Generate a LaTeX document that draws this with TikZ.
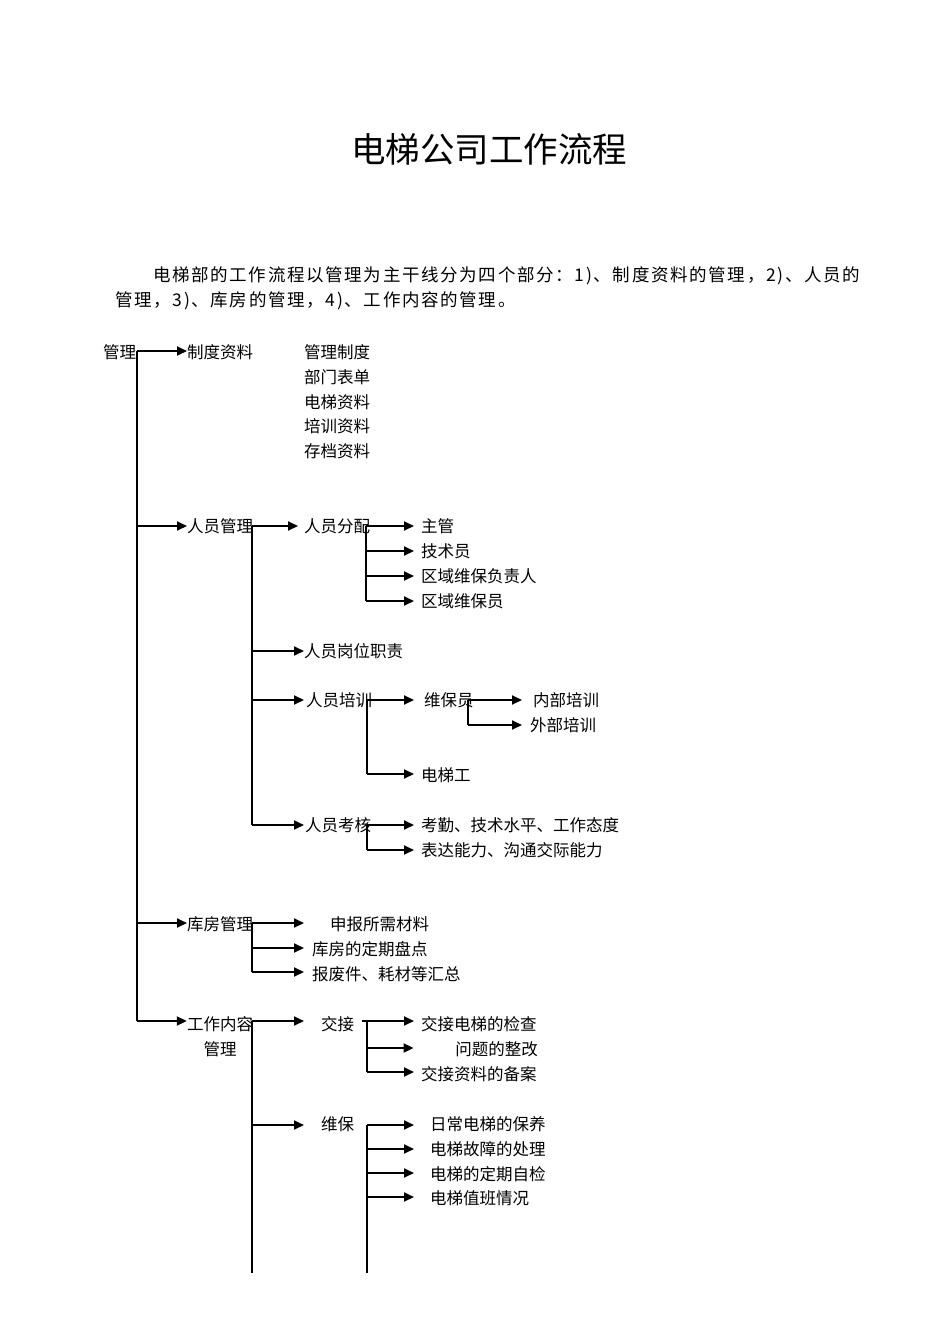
\documentclass[tikz,border=0pt]{standalone}
\usepackage{fontspec}
\newfontfamily\cjk{Noto Sans CJK SC}
\newfontfamily\cjkp[LetterSpace=9.5]{Noto Sans CJK SC}
\usetikzlibrary{arrows.meta}
\begin{document}
\begin{tikzpicture}[x=1pt,y=-1pt,
  lbl/.style={anchor=west, inner sep=0pt, font=\cjk\fontsize{16.5}{25}\selectfont, text height=14.5pt, text depth=2pt},
  titlestyle/.style={inner sep=0pt, font=\cjk\fontsize{34.5}{40}\selectfont},
  parastyle/.style={anchor=west, inner sep=0pt, font=\cjkp\fontsize{17.5}{20}\selectfont, text height=15.4pt, text depth=2.1pt},
  ln/.style={line width=1.8pt},
  arr/.style={ln, -{Triangle[length=10pt,width=9pt]}}]
\useasboundingbox[fill=white] (0,0) rectangle (950,1344);
% title and paragraph
\node[titlestyle] (title) at (489,149) {电梯公司工作流程};
\node[parastyle] (p1) at (153,275) {电梯部的工作流程以管理为主干线分为四个部分：1)、制度资料的管理，2)、人员的};
\node[parastyle] (p2) at (115,300) {管理，3)、库房的管理，4)、工作内容的管理。};
% labels
\node[lbl] (root) at (103,352) {管理};
\node[lbl] (zd) at (187,352) {制度资料};
\node[lbl] (zd1) at (304,352) {管理制度};
\node[lbl] (zd2) at (304,377) {部门表单};
\node[lbl] (zd3) at (304,402) {电梯资料};
\node[lbl] (zd4) at (304,426) {培训资料};
\node[lbl] (zd5) at (304,451) {存档资料};
\node[lbl] (ry) at (187,526) {人员管理};
\node[lbl] (fp) at (304,526) {人员分配};
\node[lbl] (fp1) at (421,526) {主管};
\node[lbl] (fp2) at (421,551) {技术员};
\node[lbl] (fp3) at (421,576) {区域维保负责人};
\node[lbl] (fp4) at (421,601) {区域维保员};
\node[lbl] (gw) at (304,651) {人员岗位职责};
\node[lbl] (px) at (306,700) {人员培训};
\node[lbl] (wby) at (424,700) {维保员};
\node[lbl] (dtg) at (421,775) {电梯工};
\node[lbl] (nb) at (533,700) {内部培训};
\node[lbl] (wbp) at (530,725) {外部培训};
\node[lbl] (kh) at (305,825) {人员考核};
\node[lbl] (kh1) at (421,825) {考勤、技术水平、工作态度};
\node[lbl] (kh2) at (421,850) {表达能力、沟通交际能力};
\node[lbl] (kf) at (187,924) {库房管理};
\node[lbl] (kf1) at (330,924) {申报所需材料};
\node[lbl] (kf2) at (312,949) {库房的定期盘点};
\node[lbl] (kf3) at (312,974) {报废件、耗材等汇总};
\node[lbl, anchor=center, align=center, text height=, text depth=] (gz) at (220,1036.5) {工作内容\\管理};
\node[lbl] (jj) at (321,1024) {交接};
\node[lbl] (jj1) at (421,1024) {交接电梯的检查};
\node[lbl, anchor=east] (jj2) at (538,1049) {问题的整改};
\node[lbl] (jj3) at (421,1074) {交接资料的备案};
\node[lbl] (wbx) at (321,1124) {维保};
\node[lbl] (wb1) at (430,1124) {日常电梯的保养};
\node[lbl] (wb2) at (430,1149) {电梯故障的处理};
\node[lbl] (wb3) at (430,1174) {电梯的定期自检};
\node[lbl] (wb4) at (430,1198) {电梯值班情况};
% bus coordinates
\coordinate (t0) at (137,351);
\coordinate (t1) at (137,526);
\coordinate (t2) at (137,923);
\coordinate (t3) at (137,1021);
\coordinate (r0) at (252,526);
\coordinate (r1) at (252,651);
\coordinate (r2) at (252,700);
\coordinate (r3) at (252,825);
\coordinate (f0) at (366,526);
\coordinate (f1) at (366,551);
\coordinate (f2) at (366,576);
\coordinate (f3) at (366,601);
\coordinate (p0) at (367,700);
\coordinate (p1b) at (367,774);
\coordinate (w0) at (468,700);
\coordinate (w1) at (468,725);
\coordinate (k0) at (367,825);
\coordinate (k1) at (367,850);
\coordinate (s0) at (252,923);
\coordinate (s1) at (252,948);
\coordinate (s2) at (252,972);
\coordinate (g0) at (252,1021);
\coordinate (g1) at (252,1125);
\coordinate (gEnd) at (252,1273);
\coordinate (jtick) at (362,1021);
\coordinate (j0) at (367,1021);
\coordinate (j1) at (367,1048);
\coordinate (j2) at (367,1072);
\coordinate (m0) at (367,1125);
\coordinate (m1) at (367,1149);
\coordinate (m2) at (367,1173);
\coordinate (m3) at (367,1197);
\coordinate (mEnd) at (367,1273);
% bus lines
\draw[ln] (t0) -- (t3);
\draw[ln] (r0) -- (r3);
\draw[ln] (f0) -- (f3);
\draw[ln] (p0) -- (p1b);
\draw[ln] (w0) -- (w1);
\draw[ln] (k0) -- (k1);
\draw[ln] (s0) -- (s2);
\draw[ln] (g0) -- (gEnd);
\draw[ln] (jtick) -- (j0) -- (j2);
\draw[ln] (m0) -- (mEnd);
% arrows
\draw[arr] (t0) -- (t0 -| zd.west);
\draw[arr] (t1) -- (t1 -| ry.west);
\draw[arr] (t2) -- (t2 -| kf.west);
\draw[arr] (t3) -- (t3 -| gz.west);
\draw[arr, shorten >=6pt] (r0) -- (r0 -| fp.west);
\draw[arr] (r1) -- (r1 -| gw.west);
\draw[arr, shorten >=2pt] (r2) -- (r2 -| px.west);
\draw[arr, shorten >=1pt] (r3) -- (r3 -| kh.west);
\draw[arr, shorten >=7pt] (f0) -- (f0 -| fp1.west);
\draw[arr, shorten >=7pt] (f1) -- (f1 -| fp2.west);
\draw[arr, shorten >=7pt] (f2) -- (f2 -| fp3.west);
\draw[arr, shorten >=7pt] (f3) -- (f3 -| fp4.west);
\draw[arr, shorten >=10pt] (p0) -- (p0 -| wby.west);
\draw[arr, shorten >=7pt] (p1b) -- (p1b -| dtg.west);
\draw[arr, shorten >=11pt] (w0) -- (w0 -| nb.west);
\draw[arr, shorten >=8pt] (w1) -- (w1 -| wbp.west);
\draw[arr, shorten >=7pt] (k0) -- (k0 -| kh1.west);
\draw[arr, shorten >=7pt] (k1) -- (k1 -| kh2.west);
\draw[arr, shorten >=26pt] (s0) -- (s0 -| kf1.west);
\draw[arr, shorten >=8pt] (s1) -- (s1 -| kf2.west);
\draw[arr, shorten >=8pt] (s2) -- (s2 -| kf3.west);
\draw[arr, shorten >=17pt] (g0) -- (g0 -| jj.west);
\draw[arr, shorten >=17pt] (g1) -- (g1 -| wbx.west);
\draw[arr, shorten >=7pt] (j0) -- (j0 -| jj1.west);
\draw[arr, shorten >=41.5pt] (j1) -- (j1 -| jj2.west);
\draw[arr, shorten >=7pt] (j2) -- (j2 -| jj3.west);
\draw[arr, shorten >=16pt] (m0) -- (m0 -| wb1.west);
\draw[arr, shorten >=16pt] (m1) -- (m1 -| wb2.west);
\draw[arr, shorten >=16pt] (m2) -- (m2 -| wb3.west);
\draw[arr, shorten >=16pt] (m3) -- (m3 -| wb4.west);
\end{tikzpicture}
\end{document}
